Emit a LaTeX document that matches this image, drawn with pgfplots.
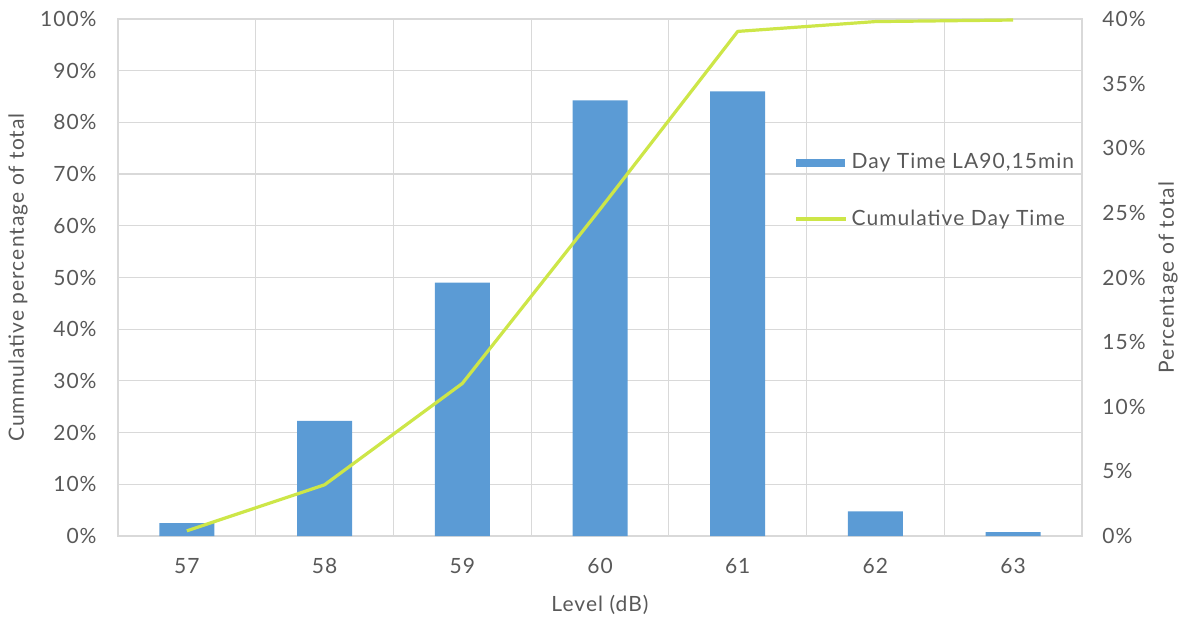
\documentclass[border=0pt]{standalone}
\usepackage{pgfplots}
\pgfplotsset{compat=1.18}
\usepackage{fontspec}
\setmainfont{Lato}[LetterSpace=5]

\definecolor{barblue}{RGB}{91,155,213}
\definecolor{cumgreen}{RGB}{205,230,72}
\definecolor{gridgray}{RGB}{217,217,217}
\definecolor{txtgray}{RGB}{89,89,89}

% Share of time at each level (%) and running total (%)
\pgfplotstableread{
level pct cum
57 1.0 1.0
58 8.9 9.9
59 19.6 29.5
60 33.7 63.2
61 34.4 97.6
62 1.9 99.5
63 0.3 99.8
}\leveldata

\pgfplotsset{
  common/.style={
    scale only axis,
    width=482pt, height=258.5pt,
    xmin=56.5, xmax=63.5,
    font=\fontsize{10.5}{12.5}\selectfont,
    tick style={draw=none},
    /pgf/number format/assume math mode=true,
  },
}

\begin{document}
\begin{tikzpicture}
% frame, grid, left scale and category labels
\begin{axis}[common, name=main,
  ymin=0, ymax=100,
  ytick={0,10,...,100},
  yticklabels={0\%,10\%,20\%,30\%,40\%,50\%,60\%,70\%,80\%,90\%,100\%},
  xtick={57,...,63},
  minor xtick={56.5,57.5,...,63.5},
  ymajorgrids, xminorgrids,
  grid style={draw=gridgray, line width=0.6pt},
  minor grid style={draw=gridgray, line width=0.6pt},
  axis line style={draw=gridgray, line width=0.6pt},
  ticklabel style={text=txtgray},
  yticklabel style={anchor=east, inner sep=0pt, xshift=-10.5pt},
  xticklabel style={anchor=north, inner sep=0pt, yshift=-11pt},
  ylabel={Cummulative percentage of total},
  xlabel={Level (dB)},
  label style={text=txtgray},
  ylabel style={at={(axis description cs:-0.1037,0.5)}, anchor=center},
  xlabel style={at={(axis description cs:0.5,-0.1335)}, anchor=center},
]
\addplot[draw=none, forget plot] coordinates {(57,0)};
\end{axis}

% bars on the right-hand scale
\begin{axis}[common,
  axis x line=none,
  axis y line*=right,
  y axis line style={draw=none},
  ymin=0, ymax=40,
  ytick={0,5,...,40},
  yticklabels={0\%,5\%,10\%,15\%,20\%,25\%,30\%,35\%,40\%},
  yticklabel style={anchor=west, inner sep=0pt, xshift=10pt, text=txtgray},
  ylabel={Percentage of total},
  ylabel style={at={(axis description cs:1.0892,0.5)}, anchor=center, text=txtgray},
]
\addplot[ybar, bar width=27.5pt, fill=barblue, draw=none] table[x=level, y=pct] {\leveldata};
\end{axis}

% cumulative curve and legend
\begin{axis}[common,
  hide axis,
  ymin=0, ymax=100,
  legend cell align=left,
  legend style={
    draw=none, fill=none,
    at={(axis description cs:0.695,0.756)}, anchor=north west,
    row sep=15pt,
    text=txtgray,
    font=\fontsize{10.5}{12.5}\selectfont,
  },
]
\addlegendimage{legend image code/.code={\fill[barblue] (0pt,-1.8pt) rectangle (24pt,1.8pt);}}
\addlegendentry{Day Time LA90,15min}
\addplot[cumgreen, line width=1.6pt, line join=round,
  legend image code/.code={\draw[cumgreen, line width=1.6pt] (0pt,0pt) -- (25pt,0pt);}]
  table[x=level, y=cum] {\leveldata};
\addlegendentry{Cumulative Day Time}
\end{axis}

\path (main.south west) ++(-59pt,-42.5pt) rectangle ++(593pt,310.5pt);
\end{tikzpicture}
\end{document}
